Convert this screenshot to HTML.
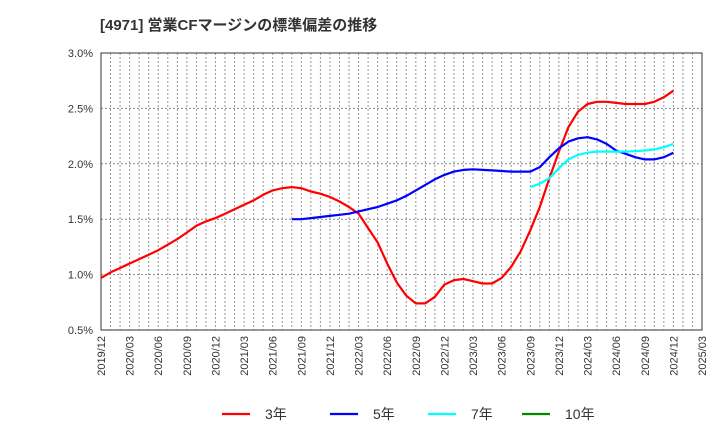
<!DOCTYPE html>
<html><head><meta charset="utf-8"><style>
body{margin:0;background:#fff;font-family:"Liberation Sans","Noto Sans CJK JP",sans-serif}
svg text{font-family:"Liberation Sans","Noto Sans CJK JP",sans-serif}
</style></head><body>
<svg id="c" width="720" height="440" xmlns="http://www.w3.org/2000/svg">
<text x="100" y="30" font-size="15" font-weight="bold" fill="#333">[4971]  営業CFマージンの標準偏差の推移</text>
<g id="grid"></g><g id="axes"></g><g id="series"></g><g id="legend"></g>
</svg>
<script>
const yTicks=[0.5,1.0,1.5,2.0,2.5,3.0];
const xTickLabels=["2019/12","2020/03","2020/06","2020/09","2020/12","2021/03","2021/06","2021/09","2021/12","2022/03","2022/06","2022/09","2022/12","2023/03","2023/06","2023/09","2023/12","2024/03","2024/06","2024/09","2024/12","2025/03"];
// monthly values, index 0 = 2019/12
const red3=[0.97,1.02,1.06,1.10,1.14,1.18,1.22,1.27,1.32,1.38,1.44,1.48,1.51,1.55,1.59,1.63,1.67,1.72,1.76,1.78,1.79,1.78,1.75,1.73,1.70,1.66,1.61,1.55,1.42,1.29,1.10,0.93,0.81,0.74,0.74,0.80,0.91,0.95,0.96,0.94,0.92,0.92,0.97,1.07,1.21,1.40,1.61,1.87,2.11,2.33,2.47,2.54,2.56,2.56,2.55,2.54,2.54,2.54,2.56,2.60,2.66];
const blue5Start=20;
const blue5=[1.50,1.50,1.51,1.52,1.53,1.54,1.55,1.57,1.59,1.61,1.64,1.67,1.71,1.76,1.81,1.86,1.90,1.93,1.945,1.95,1.945,1.94,1.935,1.93,1.93,1.93,1.97,2.06,2.14,2.20,2.23,2.24,2.22,2.18,2.12,2.09,2.06,2.04,2.04,2.06,2.10];
const cyan7Start=45;
const cyan7=[1.79,1.82,1.87,1.96,2.04,2.08,2.10,2.11,2.11,2.11,2.11,2.115,2.12,2.13,2.15,2.18];
const green10=[];
const L=101,R=702,T=53,B=330,months=63;
const xs=i=>L+(R-L)*i/months;
const ys=v=>B-(v-0.5)/2.5*(B-T);
const NS="http://www.w3.org/2000/svg";
function mk(tag,attrs,parent){const e=document.createElementNS(NS,tag);for(const k in attrs)e.setAttribute(k,attrs[k]);document.getElementById(parent).appendChild(e);return e;}
for(let m=1;m<months;m++){const g=mk("line",{x1:xs(m),x2:xs(m),y1:T,y2:B,stroke:"#999","stroke-dasharray":"2,2","stroke-width":1},"grid");

}
yTicks.forEach(v=>{if(v>0.5&&v<3){const g=mk("line",{x1:L,x2:R,y1:ys(v),y2:ys(v),stroke:"#888","stroke-dasharray":"2,2"},"grid");

}
const t=mk("text",{x:L-8,y:ys(v)+4,"text-anchor":"end","font-size":11,fill:"#333"},"axes");t.textContent=v.toFixed(1)+"%";

});
xTickLabels.forEach((s,i)=>{const x=xs(i*3);const t=mk("text",{x:0,y:0,transform:`translate(${x+4},${B+6}) rotate(-90)`,"text-anchor":"end","font-size":11,fill:"#333"},"axes");t.textContent=s;

});
const fr=mk("rect",{x:L,y:T,width:R-L,height:B-T,fill:"none",stroke:"#333","stroke-width":1},"axes");


function line(arr,start,color,name){if(!arr.length)return;const p=arr.map((v,i)=>xs(start+i).toFixed(1)+","+ys(v).toFixed(1)).join(" ");
const e=mk("polyline",{points:p,fill:"none",stroke:color,"stroke-width":2.2,"stroke-linejoin":"round"},"series");

}
line(red3,0,"#f00","series-3yr");
line(blue5,blue5Start,"#00f","series-5yr");
line(cyan7,cyan7Start,"#0ff","series-7yr");
line(green10,0,"#080","series-10yr");
const leg=[["3年","#f00",222],["5年","#00f",330],["7年","#0ff",428],["10年","#080",522]];
leg.forEach(([s,c,x])=>{const l=mk("line",{x1:x,x2:x+28,y1:414,y2:414,stroke:c,"stroke-width":2.2},"legend");


const t=mk("text",{x:x+43,y:419,"font-size":14,fill:"#333"},"legend");t.textContent=s;

});
</script>
</body></html>
